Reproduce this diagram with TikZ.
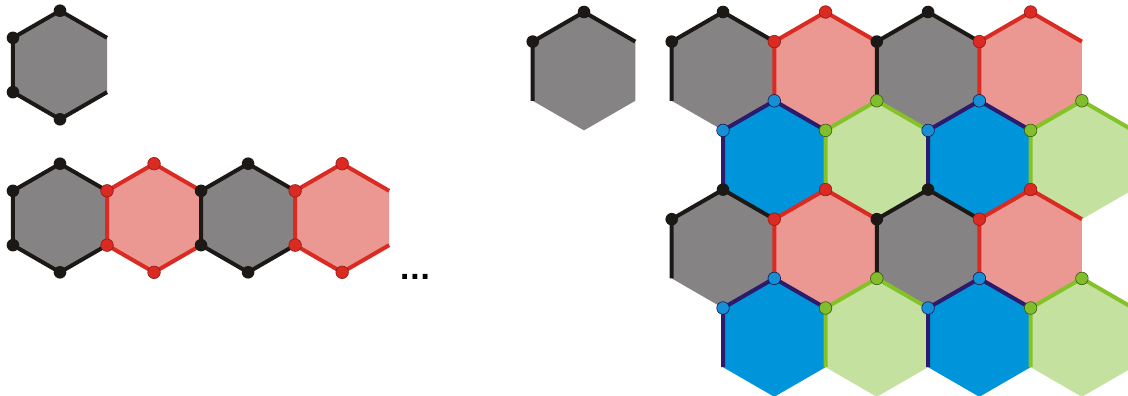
\documentclass[tikz,border=0pt]{standalone}
\usepackage{fontspec}
\newfontfamily\dotfont{DejaVu Sans}
\definecolor{hgray}{HTML}{868384}
\definecolor{hblack}{HTML}{1C1816}
\definecolor{hredline}{HTML}{DA2A22}
\definecolor{hredfill}{HTML}{EA9891}
\definecolor{hbluefill}{HTML}{0094DA}
\definecolor{hnavy}{HTML}{2C1B6C}
\definecolor{hbluedot}{HTML}{1590D6}
\definecolor{hgreenline}{HTML}{84C228}
\definecolor{hgreenfill}{HTML}{C4E1A0}
\definecolor{hgreendot}{HTML}{80BE2C}
\tikzset{
  grayfill/.style={fill=hgray},
  grayline/.style={draw=hblack, line width=4pt},
  graydot/.style={fill=hblack},
  redfill/.style={fill=hredfill},
  redline/.style={draw=hredline, line width=4pt},
  reddot/.style={fill=hredline, draw=hredline!65!black, line width=0.6pt},
  bluefill/.style={fill=hbluefill},
  blueline/.style={draw=hnavy, line width=4pt},
  bluedot/.style={fill=hbluedot, draw=hnavy!70!black, line width=0.6pt},
  greenfill/.style={fill=hgreenfill},
  greenline/.style={draw=hgreenline, line width=4pt},
  greendot/.style={fill=hgreendot, draw=hgreenline!45!black, line width=0.6pt},
}
% #1 cx, #2 cy, #3 R, #4 style
\newcommand\HexFill[4]{%
  \pgfmathsetmacro\hxw{0.8660254*#3}\pgfmathsetmacro\hxh{#3/2}%
  \fill[#4] (#1,#2-#3) -- (#1+\hxw,#2-\hxh) -- (#1+\hxw,#2+\hxh) -- (#1,#2+#3)
    -- (#1-\hxw,#2+\hxh) -- (#1-\hxw,#2-\hxh) -- cycle;}
\newcommand\HexEdgeThree[4]{%
  \pgfmathsetmacro\hxw{0.8660254*#3}\pgfmathsetmacro\hxh{#3/2}%
  \draw[#4] (#1-\hxw,#2+\hxh) -- (#1-\hxw,#2-\hxh) -- (#1,#2-#3) -- (#1+\hxw,#2-\hxh);}
\newcommand\HexEdgeFive[4]{%
  \pgfmathsetmacro\hxw{0.8660254*#3}\pgfmathsetmacro\hxh{#3/2}%
  \draw[#4] (#1+\hxw,#2+\hxh) -- (#1,#2+#3) -- (#1-\hxw,#2+\hxh) -- (#1-\hxw,#2-\hxh)
    -- (#1,#2-#3) -- (#1+\hxw,#2-\hxh);}
\newcommand\HexDotsTwo[4]{%
  \pgfmathsetmacro\hxw{0.8660254*#3}\pgfmathsetmacro\hxh{#3/2}%
  \path[#4] (#1,#2-#3) circle (6.3pt) (#1-\hxw,#2-\hxh) circle (6.3pt);}
\newcommand\HexDotsFour[4]{%
  \pgfmathsetmacro\hxw{0.8660254*#3}\pgfmathsetmacro\hxh{#3/2}%
  \path[#4] (#1,#2-#3) circle (6.3pt) (#1-\hxw,#2-\hxh) circle (6.3pt)
    (#1-\hxw,#2+\hxh) circle (6.3pt) (#1,#2+#3) circle (6.3pt);}
\begin{document}
\begin{tikzpicture}[x=1pt,y=-1pt]
\useasboundingbox (0,0) rectangle (1128,396);
\clip (0,0) rectangle (1128,396);
% ---------- left: single hexagon ----------
\HexFill{60}{65}{54.3}{grayfill}
\HexEdgeFive{60}{65}{54.3}{grayline}
\HexDotsFour{60}{65}{54.3}{graydot}
% ---------- left: chain ----------
\foreach \cx/\nm in {60/gray,154.05/red,248.1/gray,342.15/red}{
  \HexFill{\cx}{218}{54.3}{\nm fill}}
\foreach \cx/\nm in {60/gray,154.05/red,248.1/gray,342.15/red}{
  \HexEdgeFive{\cx}{218}{54.3}{\nm line}}
\foreach \cx/\nm in {60/gray,154.05/red,248.1/gray,342.15/red}{
  \HexDotsFour{\cx}{218}{54.3}{\nm dot}}
\node[anchor=base, inner sep=0pt, font=\dotfont\bfseries\fontsize{27}{30}\selectfont] (ellipsis) at (415,279.5) {...};
% ---------- right: unit cell ----------
\HexFill{584}{71.2}{59.2}{grayfill}
\HexEdgeThree{584}{71.2}{59.2}{grayline}
\HexDotsTwo{584}{71.2}{59.2}{graydot}
% ---------- right: honeycomb ----------
\def\celllist{723/71.2/gray, 825.54/71.2/red, 928.08/71.2/gray, 1030.62/71.2/red,
  774.27/160/blue, 876.81/160/green, 979.35/160/blue, 1081.89/160/green,
  723/248.8/gray, 825.54/248.8/red, 928.08/248.8/gray, 1030.62/248.8/red,
  774.27/337.6/blue, 876.81/337.6/green, 979.35/337.6/blue, 1081.89/337.6/green}
\foreach \cx/\cy/\nm in \celllist {\HexFill{\cx}{\cy}{59.2}{\nm fill}}
\foreach \cx/\cy/\nm in \celllist {\HexEdgeThree{\cx}{\cy}{59.2}{\nm line}}
\foreach \cx/\cy/\nm in \celllist {\HexDotsTwo{\cx}{\cy}{59.2}{\nm dot}}
\end{tikzpicture}
\end{document}
